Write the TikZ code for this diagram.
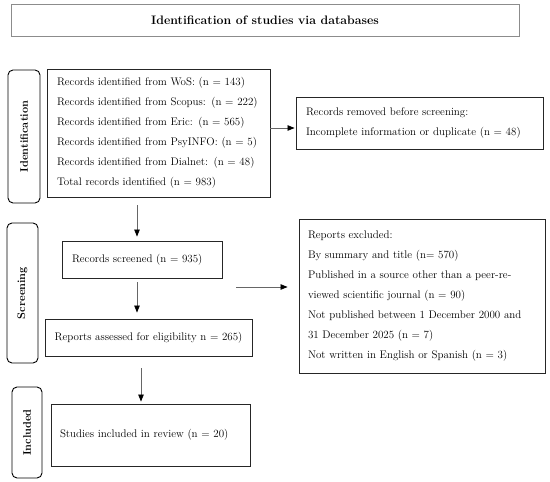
\documentclass[tikz,border=0pt]{standalone}
\usetikzlibrary{arrows.meta,calc}
\begin{document}
\begin{tikzpicture}[x=1pt,y=-1pt,
  txt/.style={font=\fontsize{11}{20}\selectfont},
  box/.style={draw=black!85,line width=0.9pt,txt,align=left,inner ysep=0pt,anchor=center},
  side/.style={draw=black,line width=0.9pt,rounded corners=5pt,inner sep=0pt,anchor=center},
  sidetxt/.style={font=\fontsize{11}{13}\bfseries\selectfont,rotate=90},
  arr/.style={draw=black!60,line width=0.7pt,-{Triangle[width=5.5pt,length=7pt,color=black]}}
]
\useasboundingbox (0,0) rectangle (550,482);
% title
\node[draw=black!45,line width=0.9pt,minimum width=508pt,minimum height=32pt,inner sep=0pt,font=\fontsize{12.3}{14}\bfseries\selectfont] (title) at (265,20) {Identification of studies via databases};
% side labels
\node[side,minimum width=32pt,minimum height=133pt] (idlab) at (24,136.5) {};
\node[sidetxt] (idlabt) at (idlab.center) {Identification};
\node[side,minimum width=31pt,minimum height=140pt] (sclab) at (22.5,293) {};
\node[sidetxt] (sclabt) at (sclab.center) {Screening};
\node[side,minimum width=30pt,minimum height=91pt] (inlab) at (27,432.5) {};
\node[sidetxt] (inlabt) at (inlab.center) {Included};
% boxes
\node[box,text width=203pt,inner xsep=10pt,minimum height=128pt] (recs) at (158.5,133) {Records identified from WoS: (n = 143)\\Records identified from Scopus: (n = 222)\\Records identified from Eric: (n = 565)\\Records identified from PsyINFO: (n = 5)\\Records identified from Dialnet: (n = 48)\\Total records identified (n = 983)};
\node[box,text width=227pt,inner xsep=10pt,minimum height=52pt] (removed) at (419.5,123) {Records removed before screening:\\Incomplete information or duplicate (n = 48)};
\node[box,text width=140pt,inner xsep=10pt,minimum height=37pt] (screened) at (142,259.5) {Records screened (n = 935)};
\node[box,minimum width=207pt,inner xsep=0pt,minimum height=37pt] (assessed) at (148.5,337.5) {Reports assessed for eligibility n = 265)};
\node[box,text width=228pt,inner xsep=9pt,minimum height=154pt] (excluded) at (422,296) {Reports excluded:\\By summary and title (n= 570)\\\makebox[228pt][s]{Published in a source other than a peer-re-}\\viewed scientific journal (n = 90)\\\makebox[228pt][s]{Not published between 1 December 2000 and}\\31 December 2025 (n = 7)\\Not written in English or Spanish (n = 3)};
\node[box,text width=181pt,inner xsep=9pt,minimum height=62pt] (included) at (150.5,435) {Studies included in review (n = 20)};
% connectors
\draw[arr,shorten <=8pt,shorten >=4pt] (137,0 |- recs.south) -- (137,0 |- screened.north);
\draw[arr,shorten <=4pt,shorten >=6pt] (137,0 |- screened.south) -- (137,0 |- assessed.north);
\draw[arr,shorten <=12pt,shorten >=2pt] (141,0 |- assessed.south) -- (141,0 |- included.north);
\draw[arr,shorten >=1pt] (recs.east |- 0,128) -- (removed.west |- 0,128);
\coordinate (exs) at (236,287);
\draw[arr,shorten >=11pt] (exs) -- (excluded.west |- exs);
\end{tikzpicture}
\end{document}
